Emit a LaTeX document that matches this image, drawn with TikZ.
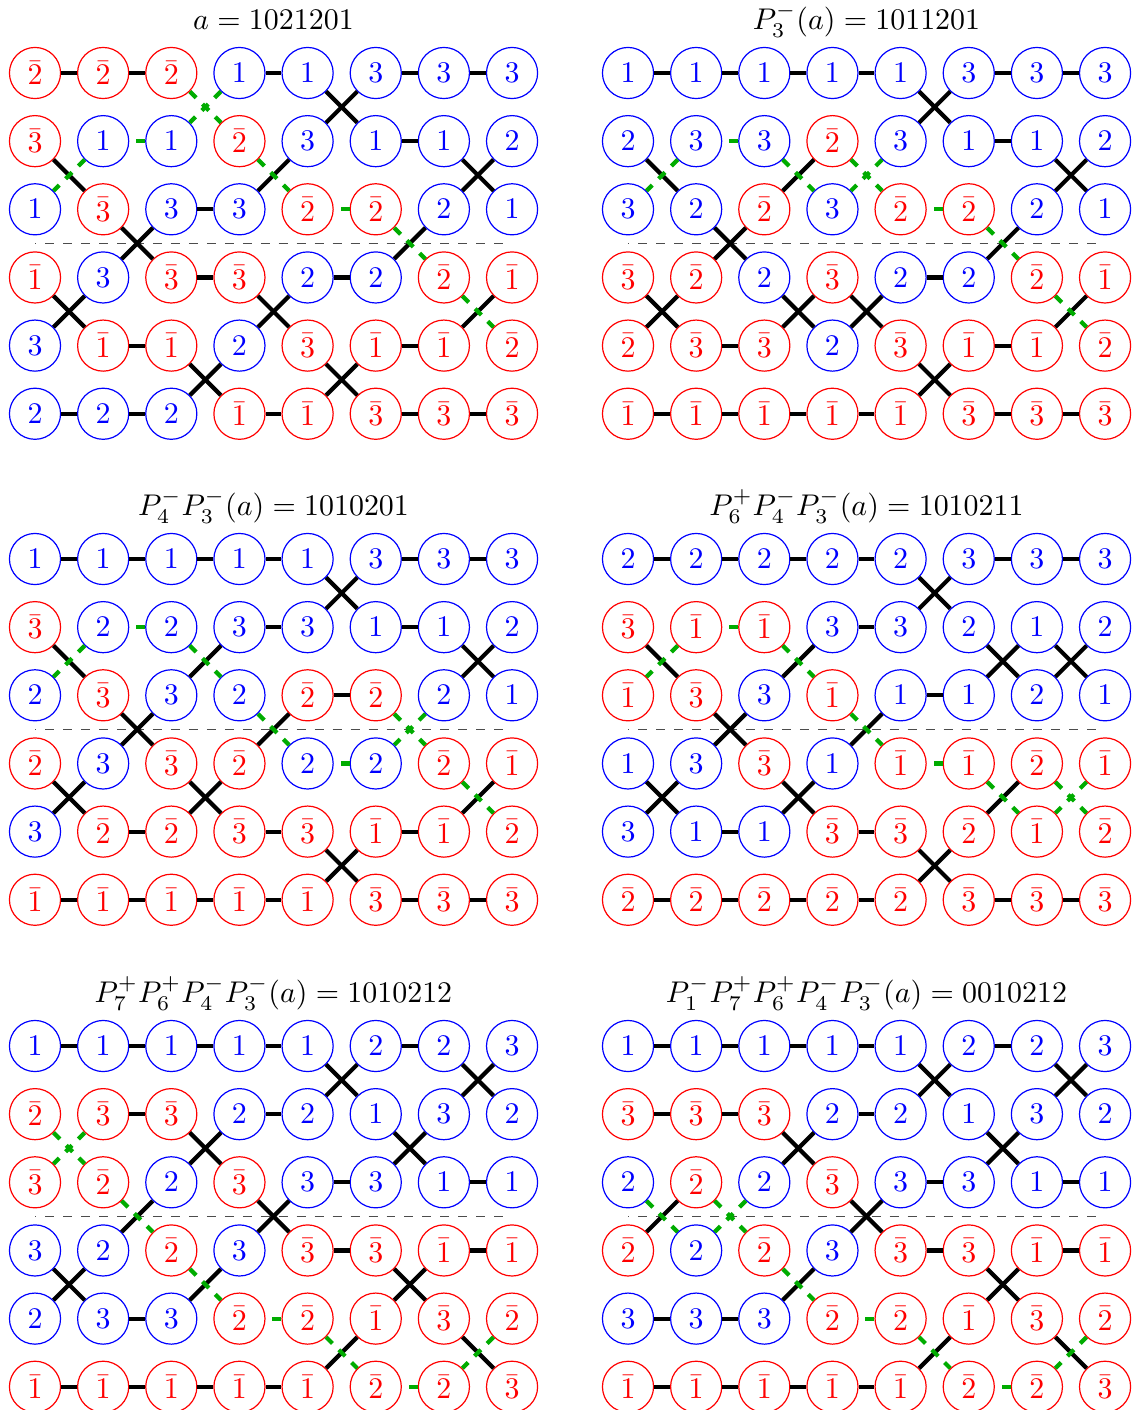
\documentclass[tikz,border=0pt]{standalone}
\definecolor{grnc}{RGB}{0,172,0}
\tikzset{
  vtx/.style={circle, draw, fill=white, minimum size=0.6cm, inner sep=0pt, line width=0.4pt},
  col/.code={\ifnum#1>3\relax\pgfkeysalso{draw=red,text=red}\else\pgfkeysalso{draw=blue,text=blue}\fi},
  blk/.style={line width=1.4pt, draw=black},
  grn/.style={line width=1.4pt, draw=grnc, dashed},
  sepline/.style={dashed, draw=black!70, line width=0.45pt, dash phase=2.6pt},
  ttl/.style={anchor=base, inner sep=0pt}
}
\newcommand\lbl[1]{\ifnum#1>3 $\bar{\the\numexpr#1-3\relax}$\else $#1$\fi}
\newcommand\drawpanel[7]{%
  \node[ttl] (T#1) at (#2+238.5,#3-43.5) {#4};
  \foreach \rowl [count=\ri] in {#5} {
    \foreach \lab [count=\cj] in \rowl {
      \node[vtx,col=\lab] (P#1-\ri-\cj) at (#2+68.15*\cj-68.15, #3+68.15*\ri-68.15) {\lbl{\lab}};
    }
  }
  \coordinate (DL#1) at (#2, #3+170.4);
  \coordinate (DR#1) at (#2+477.05, #3+170.4);
  \draw[sepline] (DL#1) -- (DR#1);
  \foreach \rowh [count=\ri] in {#6} {
    \foreach \ty [count=\cj] in \rowh {
      \pgfmathtruncatemacro\cn{\cj+1}
      \if\ty B\draw[blk] (P#1-\ri-\cj) -- (P#1-\ri-\cn);\fi
      \if\ty G\draw[grn] (P#1-\ri-\cn) -- (P#1-\ri-\cj);\fi
    }
  }
  \foreach \rowg [count=\ri] in {#7} {
    \foreach \ty [count=\cj] in \rowg {
      \pgfmathtruncatemacro\cn{\cj+1}
      \pgfmathtruncatemacro\rn{\ri+1}
      \if\ty X\draw[blk] (P#1-\ri-\cj) -- (P#1-\rn-\cn);
        \draw[blk] (P#1-\rn-\cj) -- (P#1-\ri-\cn);\fi
      \if\ty G\draw[grn] (P#1-\ri-\cj) -- (P#1-\rn-\cn);
        \draw[grn] (P#1-\ri-\cn) -- (P#1-\rn-\cj);\fi
      \if\ty S\draw[blk] (P#1-\rn-\cj) -- (P#1-\ri-\cn);
        \draw[grn] (P#1-\ri-\cj) -- (P#1-\rn-\cn);\fi
      \if\ty K\draw[blk] (P#1-\ri-\cj) -- (P#1-\rn-\cn);
        \draw[grn] (P#1-\ri-\cn) -- (P#1-\rn-\cj);\fi
    }
  }
}
\begin{document}
\begin{tikzpicture}[x=0.334pt, y=-0.334pt]
\useasboundingbox (0,0) rectangle (1138,1410);
% Panel 1
\drawpanel{1}{35}{73}{$a = 1021201$}
 {{5,5,5,1,1,3,3,3},{6,1,1,5,3,1,1,2},{1,6,3,3,5,5,2,1},{4,3,6,6,2,2,5,4},{3,4,4,2,6,4,4,5},{2,2,2,4,4,6,6,6}}
 {{B,B,N,B,N,B,B},{N,G,N,N,N,B,N},{N,N,B,N,G,N,N},{N,N,B,N,B,N,N},{N,B,N,N,N,B,N},{B,B,N,B,N,B,B}}
 {{N,N,G,N,X,N,N},{K,N,N,S,N,N,X},{N,X,N,N,N,S,N},{X,N,N,X,N,N,S},{N,N,X,N,X,N,N}}
% Panel 2
\drawpanel{2}{628}{73}{$P_3^-(a) = 1011201$}
 {{1,1,1,1,1,3,3,3},{2,3,3,5,3,1,1,2},{3,2,5,3,5,5,2,1},{6,5,2,6,2,2,5,4},{5,6,6,2,6,4,4,5},{4,4,4,4,4,6,6,6}}
 {{B,B,B,B,N,B,B},{N,G,N,N,N,B,N},{N,N,N,N,G,N,N},{N,N,N,N,B,N,N},{N,B,N,N,N,B,N},{B,B,B,B,N,B,B}}
 {{N,N,N,N,X,N,N},{K,N,S,G,N,N,X},{N,X,N,N,N,S,N},{X,N,X,X,N,N,S},{N,N,N,N,X,N,N}}
% Panel 3
\drawpanel{3}{35}{559}{$P_4^-P_3^-(a) = 1010201$}
 {{1,1,1,1,1,3,3,3},{6,2,2,3,3,1,1,2},{2,6,3,2,5,5,2,1},{5,3,6,5,2,2,5,4},{3,5,5,6,6,4,4,5},{4,4,4,4,4,6,6,6}}
 {{B,B,B,B,N,B,B},{N,G,N,B,N,B,N},{N,N,N,N,B,N,N},{N,N,N,N,G,N,N},{N,B,N,B,N,B,N},{B,B,B,B,N,B,B}}
 {{N,N,N,N,X,N,N},{K,N,S,N,N,N,X},{N,X,N,S,N,G,N},{X,N,X,N,N,N,S},{N,N,N,N,X,N,N}}
% Panel 4
\drawpanel{4}{628}{559}{$P_6^+P_4^-P_3^-(a) = 1010211$}
 {{2,2,2,2,2,3,3,3},{6,4,4,3,3,2,1,2},{4,6,3,4,1,1,2,1},{1,3,6,1,4,4,5,4},{3,1,1,6,6,5,4,5},{5,5,5,5,5,6,6,6}}
 {{B,B,B,B,N,B,B},{N,G,N,B,N,N,N},{N,N,N,N,B,N,N},{N,N,N,N,G,N,N},{N,B,N,B,N,N,N},{B,B,B,B,N,B,B}}
 {{N,N,N,N,X,N,N},{K,N,S,N,N,X,X},{N,X,N,S,N,N,N},{X,N,X,N,N,S,G},{N,N,N,N,X,N,N}}
% Panel 5
\drawpanel{5}{35}{1046}{$P_7^+P_6^+P_4^-P_3^-(a) = 1010212$}
 {{1,1,1,1,1,2,2,3},{5,6,6,2,2,1,3,2},{6,5,2,6,3,3,1,1},{3,2,5,3,6,6,4,4},{2,3,3,5,5,4,6,5},{4,4,4,4,4,5,5,6}}
 {{B,B,B,B,N,B,N},{N,B,N,B,N,N,N},{N,N,N,N,B,N,B},{N,N,N,N,B,N,B},{N,B,N,G,N,N,N},{B,B,B,B,N,G,N}}
 {{N,N,N,N,X,N,X},{G,N,X,N,N,X,N},{N,S,N,X,N,N,N},{X,N,S,N,N,X,N},{N,N,N,N,S,N,K}}
% Panel 6
\drawpanel{6}{628}{1046}{$P_1^-P_7^+P_6^+P_4^-P_3^-(a) = 0010212$}
 {{1,1,1,1,1,2,2,3},{6,6,6,2,2,1,3,2},{2,5,2,6,3,3,1,1},{5,2,5,3,6,6,4,4},{3,3,3,5,5,4,6,5},{4,4,4,4,4,5,5,6}}
 {{B,B,B,B,N,B,N},{B,B,N,B,N,N,N},{N,N,N,N,B,N,B},{N,N,N,N,B,N,B},{B,B,N,G,N,N,N},{B,B,B,B,N,G,N}}
 {{N,N,N,N,X,N,X},{N,N,X,N,N,X,N},{S,G,N,X,N,N,N},{N,N,S,N,N,X,N},{N,N,N,N,S,N,K}}
\end{tikzpicture}
\end{document}
